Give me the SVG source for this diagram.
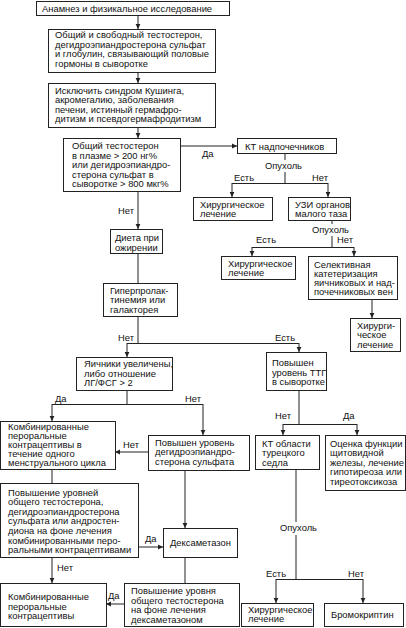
<svg xmlns="http://www.w3.org/2000/svg" width="406" height="628" viewBox="0 0 406 628">
<style>
rect{fill:#fff;stroke:#222;stroke-width:1}
text{font-family:"Liberation Sans",Arial,sans-serif;font-size:9.4px;fill:#111}
.c line,.c path{stroke:#222;stroke-width:1;fill:none}
.ar{marker-end:url(#a)}
</style>
<defs>
<marker id="a" markerWidth="6" markerHeight="6" refX="5" refY="3" orient="auto" markerUnits="userSpaceOnUse"><path d="M0,0.6 L5,3 L0,5.4z" fill="#222"/></marker>
</defs>
<rect x="0" y="0" width="406" height="628" style="stroke:none"/>
<g class="c">
<line class="ar" x1="138" y1="15" x2="138" y2="29"/>
<line class="ar" x1="138" y1="72" x2="138" y2="83"/>
<line class="ar" x1="138" y1="127" x2="138" y2="138"/>
<line class="ar" x1="180" y1="146" x2="237" y2="146"/>
<line x1="285" y1="153" x2="285" y2="160"/>
<path d="M285,172 V183.5 M232,183.5 H328"/>
<line class="ar" x1="232" y1="183" x2="232" y2="197"/>
<line class="ar" x1="328" y1="183" x2="328" y2="197"/>
<line x1="332" y1="220" x2="332" y2="224"/>
<path d="M332,236 V247.5 M252,247.5 H354"/>
<line class="ar" x1="252" y1="247" x2="252" y2="256"/>
<line class="ar" x1="354" y1="247" x2="354" y2="256"/>
<line class="ar" x1="372" y1="299" x2="372" y2="318"/>
<line class="ar" x1="138" y1="191" x2="138" y2="229"/>
<line x1="138" y1="253" x2="138" y2="283"/>
<path d="M138,316 V343.5 M127,343.5 H299"/>
<line class="ar" x1="127" y1="343" x2="127" y2="357"/>
<line class="ar" x1="299" y1="343" x2="299" y2="352"/>
<path d="M127,390 V404.5 M52,404.5 H203"/>
<line class="ar" x1="52" y1="404" x2="52" y2="421"/>
<line class="ar" x1="203" y1="404" x2="203" y2="435"/>
<line class="ar" x1="148" y1="452" x2="115" y2="452"/>
<line x1="52" y1="469" x2="52" y2="483"/>
<line class="ar" x1="185" y1="470" x2="185" y2="528"/>
<line class="ar" x1="138" y1="547" x2="163" y2="547"/>
<line class="ar" x1="52" y1="557" x2="52" y2="583"/>
<line x1="185" y1="557" x2="185" y2="583"/>
<line class="ar" x1="124" y1="604" x2="106" y2="604"/>
<path d="M299,390 V424.5 M283,424.5 H357"/>
<line class="ar" x1="283" y1="424" x2="283" y2="435"/>
<line class="ar" x1="357" y1="424" x2="357" y2="435"/>
<line x1="296" y1="469" x2="296" y2="522"/>
<path d="M296,535 V579.5 M276,579.5 H363"/>
<line class="ar" x1="276" y1="579" x2="276" y2="603"/>
<line class="ar" x1="363" y1="579" x2="363" y2="603"/>
</g>
<g id="labels">
<text x="202" y="157">Да</text>
<text x="265" y="169">Опухоль</text>
<text x="234" y="181">Есть</text>
<text x="312" y="181">Нет</text>
<text x="312" y="233">Опухоль</text>
<text x="256" y="243">Есть</text>
<text x="337" y="243">Нет</text>
<text x="118" y="214">Нет</text>
<text x="118" y="341">Нет</text>
<text x="275" y="341">Есть</text>
<text x="55" y="402">Да</text>
<text x="185" y="402">Нет</text>
<text x="123" y="448">Нет</text>
<text x="145" y="542">Да</text>
<text x="57" y="571">Нет</text>
<text x="108" y="599">Да</text>
<text x="275" y="419">Нет</text>
<text x="343" y="419">Да</text>
<text x="280" y="531">Опухоль</text>
<text x="266" y="577">Есть</text>
<text x="348" y="577">Нет</text>
</g>
<g id="n1"><rect x="36.5" y="1.5" width="193" height="14"/><text x="42" y="12">Анамнез и физикальное исследование</text></g>
<g id="n2"><rect x="48.5" y="29.5" width="167" height="43"/><text x="55" y="38">Общий и свободный тестостерон,</text><text x="55" y="47.6">дегидроэпиандростерона сульфат</text><text x="55" y="57.2">и глобулин, связывающий половые</text><text x="55" y="66.8">гормоны в сыворотке</text></g>
<g id="n3"><rect x="48.5" y="83.5" width="167" height="44"/><text x="55" y="93.5">Исключить синдром Кушинга,</text><text x="55" y="103.1">акромегалию, заболевания</text><text x="55" y="112.7">печени, истинный гермафро-</text><text x="55" y="122.3">дитизм и псевдогермафродитизм</text></g>
<g id="n4"><rect x="63.5" y="138.5" width="117" height="53"/><text x="72" y="149">Общий тестостерон</text><text x="72" y="158.6">в плазме &gt; 200 нг%</text><text x="72" y="168.2">или дегидроэпиандро-</text><text x="72" y="177.8">стерона сульфат в</text><text x="72" y="187.4">сыворотке &gt; 800 мкг%</text></g>
<g id="n5"><rect x="237.5" y="138.5" width="99" height="15"/><text x="245" y="149.5">КТ надпочечников</text></g>
<g id="n6"><rect x="193.5" y="197.5" width="79" height="23"/><text x="200" y="207.5">Хирургическое</text><text x="200" y="217">лечение</text></g>
<g id="n7"><rect x="288.5" y="197.5" width="62" height="23"/><text x="295" y="207.5">УЗИ органов</text><text x="295" y="217">малого таза</text></g>
<g id="n8"><rect x="221.5" y="256.5" width="74" height="23"/><text x="228" y="266.5">Хирургическое</text><text x="228" y="276">лечение</text></g>
<g id="n9"><rect x="308.5" y="256.5" width="89" height="43"/><text x="314" y="267.5">Селективная</text><text x="314" y="276.8">катетеризация</text><text x="314" y="286.1">яичниковых и над-</text><text x="314" y="295.4">почечниковых вен</text></g>
<g id="n10"><rect x="350.5" y="318.5" width="50" height="33"/><text x="357" y="328.5">Хирурги-</text><text x="357" y="338">ческое</text><text x="357" y="347.5">лечение</text></g>
<g id="n11"><rect x="110.5" y="229.5" width="52" height="24"/><text x="115" y="241">Диета при</text><text x="115" y="250.5">ожирении</text></g>
<g id="n12"><rect x="103.5" y="283.5" width="74" height="33"/><text x="110" y="293.5">Гиперпролак-</text><text x="110" y="303">тинемия или</text><text x="110" y="312.5">галакторея</text></g>
<g id="n13"><rect x="76.5" y="357.5" width="96" height="33"/><text x="84" y="367">Яичники увеличены,</text><text x="84" y="376.5">либо отношение</text><text x="84" y="386">ЛГ/ФСГ &gt; 2</text></g>
<g id="n14"><rect x="0.5" y="421.5" width="115" height="48"/><text x="8" y="429.5">Комбинированные</text><text x="8" y="438.7">пероральные</text><text x="8" y="447.9">контрацептивы в</text><text x="8" y="457.1">течение одного</text><text x="8" y="466.3">менструального цикла</text></g>
<g id="n15"><rect x="148.5" y="435.5" width="101" height="35"/><text x="155" y="446">Повышен уровень</text><text x="155" y="455.4">дегидроэпиандро-</text><text x="155" y="464.8">стерона сульфата</text></g>
<g id="n16"><rect x="0.5" y="483.5" width="138" height="74"/><text x="8" y="495.5">Повышение уровней</text><text x="8" y="505.1">общего тестостерона,</text><text x="8" y="514.7">дегидроэпиандростерона</text><text x="8" y="524.3">сульфата или андростен-</text><text x="8" y="533.9">диона на фоне лечения</text><text x="8" y="543.5">комбинированными перо-</text><text x="8" y="553.1">ральными контрацептивами</text></g>
<g id="n17"><rect x="163.5" y="528.5" width="74" height="29"/><text x="170" y="546">Дексаметазон</text></g>
<g id="n18"><rect x="0.5" y="583.5" width="106" height="43"/><text x="8" y="600">Комбинированные</text><text x="8" y="609.5">пероральные</text><text x="8" y="619">контрацептивы</text></g>
<g id="n19"><rect x="124.5" y="583.5" width="115" height="43"/><text x="131" y="594">Повышение уровня</text><text x="131" y="603.5">общего тестостерона</text><text x="131" y="613">на фоне лечения</text><text x="131" y="622.5">дексаметазоном</text></g>
<g id="n20"><rect x="266.5" y="352.5" width="60" height="38"/><text x="272" y="366">Повышен</text><text x="272" y="375.5">уровень ТТГ</text><text x="272" y="385">в сыворотке</text></g>
<g id="n21"><rect x="255.5" y="435.5" width="64" height="34"/><text x="262" y="446.5">КТ области</text><text x="262" y="456">турецкого</text><text x="262" y="465.5">седла</text></g>
<g id="n22"><rect x="325.5" y="435.5" width="80" height="55"/><text x="330" y="446.5">Оценка функции</text><text x="330" y="456.1">щитовидной</text><text x="330" y="465.7">железы, лечение</text><text x="330" y="475.3">гипотиреоза или</text><text x="330" y="484.9">тиреотоксикоза</text></g>
<g id="n23"><rect x="241.5" y="603.5" width="72" height="23"/><text x="248" y="612.5">Хирургическое</text><text x="248" y="622">лечение</text></g>
<g id="n24"><rect x="324.5" y="603.5" width="79" height="23"/><text x="331" y="617.5">Бромокриптин</text></g>
</svg>
